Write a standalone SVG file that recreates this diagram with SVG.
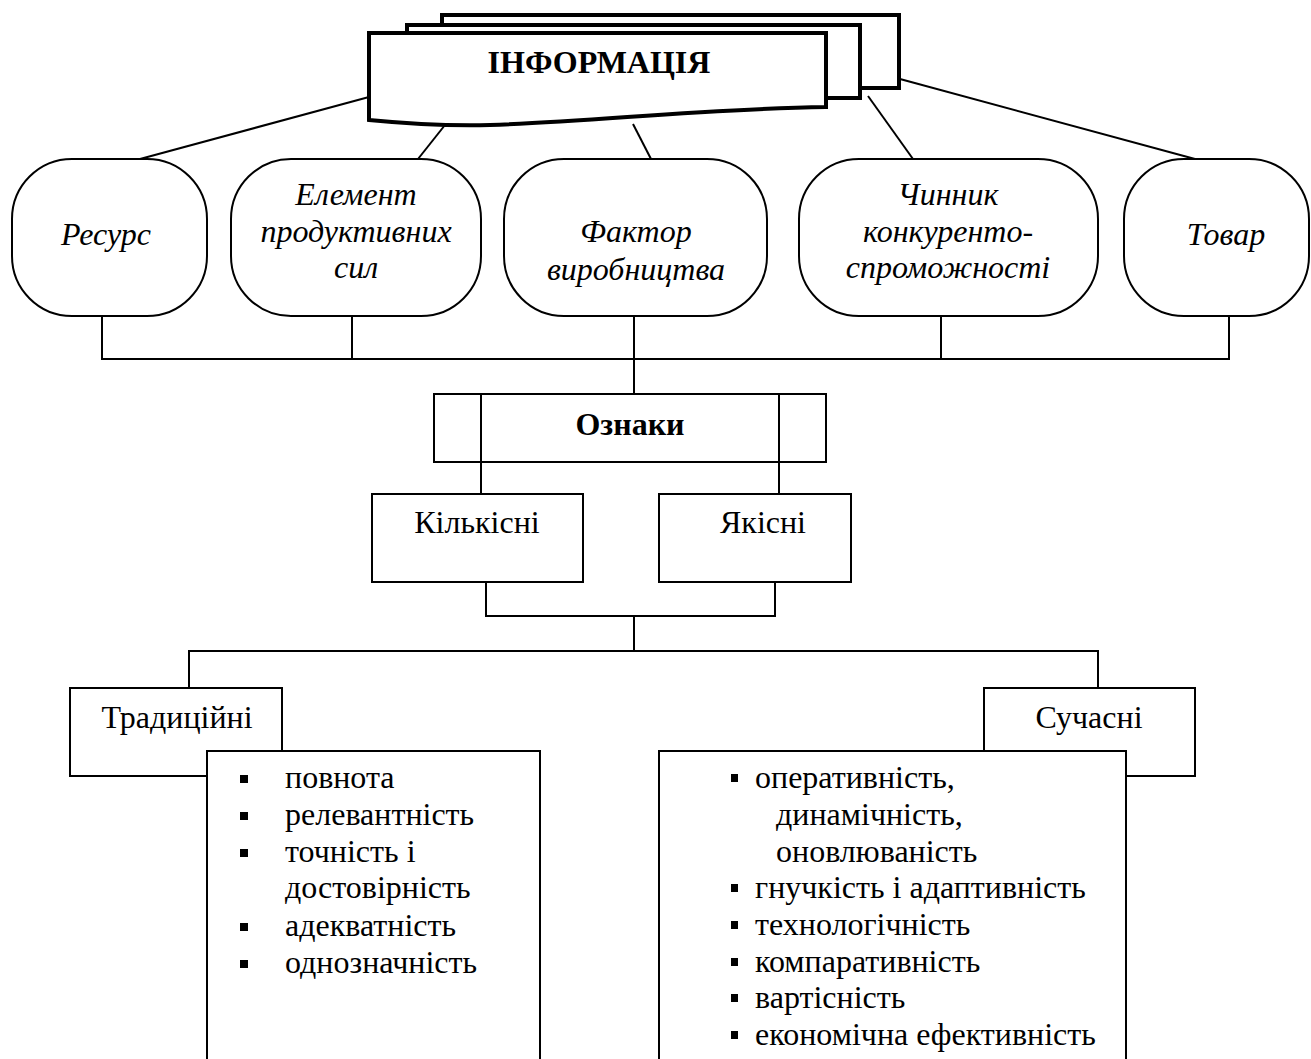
<svg xmlns="http://www.w3.org/2000/svg" width="1311" height="1059" viewBox="0 0 1311 1059">
<style>
text{font-family:"Liberation Serif","Times New Roman",serif;font-size:32px;fill:#000}
.it{font-style:italic}
.b{font-weight:bold}
.c{text-anchor:middle}
.box{fill:#fff;stroke:#000;stroke-width:2}
.thick{fill:#fff;stroke:#000;stroke-width:4}
.ln{fill:none;stroke:#000;stroke-width:2}
.bul{fill:#000}
</style>
<rect width="1311" height="1059" fill="#fff"/>
<g id="connectors">
<line class="ln" x1="369" y1="97" x2="140" y2="159"/>
<line class="ln" x1="445" y1="125" x2="418" y2="159"/>
<line class="ln" x1="633" y1="124" x2="651" y2="159"/>
<line class="ln" x1="868" y1="96" x2="913" y2="159"/>
<line class="ln" x1="900" y1="79" x2="1195" y2="159"/>
<polyline class="ln" points="102,316 102,359 1229,359 1229,309"/>
<line class="ln" x1="352" y1="316" x2="352" y2="359"/>
<line class="ln" x1="941" y1="309" x2="941" y2="359"/>
<line class="ln" x1="634" y1="309" x2="634" y2="394"/>
<line class="ln" x1="481" y1="462" x2="481" y2="494"/>
<line class="ln" x1="779" y1="462" x2="779" y2="494"/>
<polyline class="ln" points="486,582 486,616 775,616 775,582"/>
<line class="ln" x1="634" y1="616" x2="634" y2="651"/>
<polyline class="ln" points="189,688 189,651 1098,651 1098,688"/>
</g>
<g id="informatsiia">
<rect class="thick" x="442" y="15" width="457" height="73"/>
<rect class="thick" x="407" y="25" width="453" height="73"/>
<path class="thick" d="M369,33 H826 V107 C700,109 600,121 490,125 C450,126 410,124 369,120 Z"/>
<text class="b c" x="599" y="73">ІНФОРМАЦІЯ</text>
</g>
<g id="resurs">
<rect class="box" x="12" y="159" width="195" height="157" rx="60" ry="60"/>
<text class="it c" x="106" y="245">Ресурс</text>
</g>
<g id="element">
<rect class="box" x="231" y="159" width="250" height="157" rx="60" ry="60"/>
<text class="it c" x="356" y="205">Елемент</text>
<text class="it c" x="356" y="242">продуктивних</text>
<text class="it c" x="356" y="278">сил</text>
</g>
<g id="faktor">
<rect class="box" x="504" y="159" width="263" height="157" rx="60" ry="60"/>
<text class="it c" x="636" y="242">Фактор</text>
<text class="it c" x="636" y="280">виробництва</text>
</g>
<g id="chynnyk">
<rect class="box" x="799" y="159" width="299" height="157" rx="60" ry="60"/>
<text class="it c" x="948" y="205">Чинник</text>
<text class="it c" x="948" y="242">конкуренто-</text>
<text class="it c" x="948" y="278">спроможності</text>
</g>
<g id="tovar">
<rect class="box" x="1124" y="159" width="185" height="157" rx="60" ry="60"/>
<text class="it c" x="1226" y="245">Товар</text>
</g>
<g id="oznaky">
<rect class="box" x="434" y="394" width="392" height="68"/>
<line class="ln" x1="481" y1="394" x2="481" y2="462"/>
<line class="ln" x1="779" y1="394" x2="779" y2="462"/>
<text class="b c" x="630" y="435">Ознаки</text>
</g>
<g id="kilkisni">
<rect class="box" x="372" y="494" width="211" height="88"/>
<text class="c" x="477" y="533">Кількісні</text>
</g>
<g id="yakisni">
<rect class="box" x="659" y="494" width="192" height="88"/>
<text class="c" x="763" y="533">Якісні</text>
</g>
<g id="tradytsiini">
<rect class="box" x="70" y="688" width="212" height="88"/>
<text class="c" x="177" y="728">Традиційні</text>
</g>
<g id="suchasni">
<rect class="box" x="984" y="688" width="211" height="88"/>
<text class="c" x="1089" y="728">Сучасні</text>
</g>
<g id="trad-list">
<rect class="box" x="207" y="751" width="333" height="330"/>
<rect class="bul" x="240" y="775" width="8" height="8"/>
<text x="285" y="788">повнота</text>
<rect class="bul" x="240" y="812" width="8" height="8"/>
<text x="285" y="825">релевантність</text>
<rect class="bul" x="240" y="849" width="8" height="8"/>
<text x="285" y="862">точність і</text>
<text x="285" y="898">достовірність</text>
<rect class="bul" x="240" y="923" width="8" height="8"/>
<text x="285" y="936">адекватність</text>
<rect class="bul" x="240" y="960" width="8" height="8"/>
<text x="285" y="973">однозначність</text>
</g>
<g id="suchasni-list">
<rect class="box" x="659" y="751" width="467" height="330"/>
<rect class="bul" x="731" y="774" width="7" height="8"/>
<text x="755" y="788">оперативність,</text>
<text x="776" y="825">динамічність,</text>
<text x="776" y="862">оновлюваність</text>
<rect class="bul" x="731" y="884" width="7" height="8"/>
<text x="755" y="898">гнучкість і адаптивність</text>
<rect class="bul" x="731" y="921" width="7" height="8"/>
<text x="755" y="935">технологічність</text>
<rect class="bul" x="731" y="958" width="7" height="8"/>
<text x="755" y="972">компаративність</text>
<rect class="bul" x="731" y="994" width="7" height="8"/>
<text x="755" y="1008">вартісність</text>
<rect class="bul" x="731" y="1031" width="7" height="8"/>
<text x="755" y="1045">економічна ефективність</text>
</g>
</svg>
